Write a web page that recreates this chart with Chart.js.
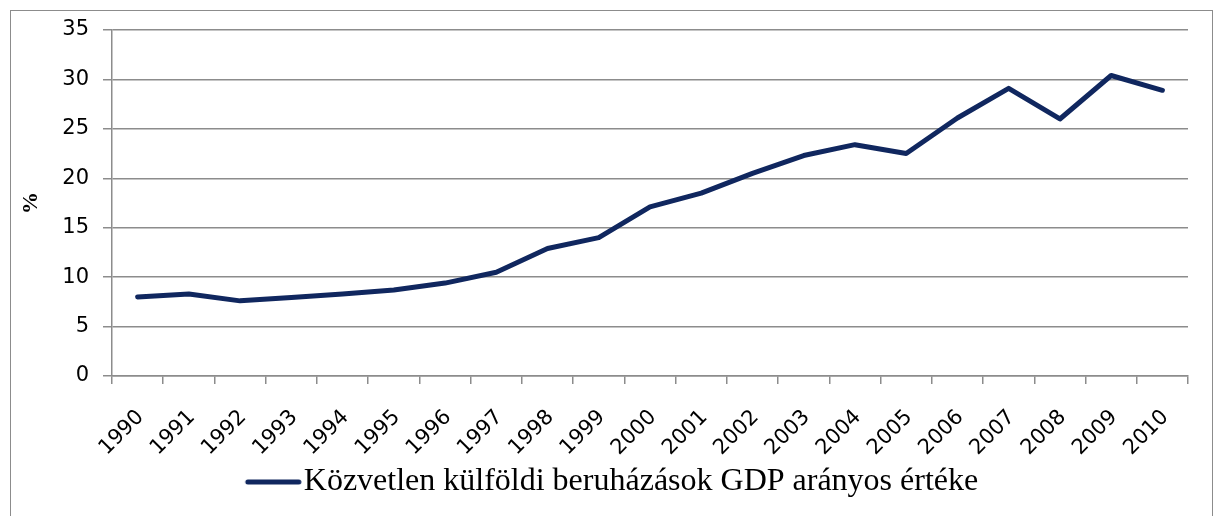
<!DOCTYPE html>
<html>
<head>
<meta charset="utf-8">
<script src="https://cdn.jsdelivr.net/npm/chart.js@4.4.0/dist/chart.umd.min.js"></script>
<style>
  html, body { margin: 0; padding: 0; background: #fff; }
  #wrap { position: relative; width: 1216px; height: 516px; }
  #frame { position: absolute; left: 10px; top: 10px; width: 1203px; height: 520px;
           border: 1px solid #8c8c8c; box-sizing: border-box; }
  canvas#chart { position: absolute; left: 0; top: 0; }
</style>
</head>
<body>
<div id="wrap">
  <div id="frame"></div>
  <canvas id="chart" width="1216" height="516"></canvas>
</div>
<script>
// years on the x axis
const years = ['1990', '1991', '1992', '1993', '1994', '1995', '1996', '1997', '1998', '1999',
  '2000', '2001', '2002', '2003', '2004', '2005', '2006', '2007', '2008', '2009', '2010'];

// FDI stock as % of GDP
const fdiShare = [8.0, 8.3, 7.6, 7.95, 8.3, 8.7, 9.4, 10.5, 12.9, 14.0,
  17.1, 18.5, 20.5, 22.3, 23.4, 22.5, 26.1, 29.1, 26.0, 30.4, 28.9];

const seriesLabel = 'Közvetlen külföldi beruházások GDP arányos értéke';
const yTitle = '%';
const yMax = 35;
const yStep = 5;

const gridColor = '#8c8c8c';
const lineColor = '#10275f';

// legend marker: a thick line drawn in the right half of a wide image, so the
// legend entry sits a bit right of centre and close to its text (like Excel)
function legendLine() {
  const c = document.createElement('canvas');
  c.width = 108;
  c.height = 8;
  const g = c.getContext('2d');
  g.strokeStyle = lineColor;
  g.lineWidth = 5;
  g.lineCap = 'round';
  g.beginPath();
  g.moveTo(53, 4);
  g.lineTo(104, 4);
  g.stroke();
  return c;
}

const ctx = document.getElementById('chart').getContext('2d');
const chart = new Chart(ctx, {
  type: 'line',
  data: {
    labels: years,
    datasets: [{
      label: seriesLabel,
      data: fdiShare,
      borderColor: lineColor,
      backgroundColor: lineColor,
      borderWidth: 5,
      borderCapStyle: 'round',
      borderJoinStyle: 'round',
      pointRadius: 0,
      pointStyle: legendLine(),
      tension: 0
    }]
  },
  options: {
    responsive: false,
    animation: false,
    layout: { padding: { top: 30, right: 28, bottom: 8, left: 0 } },
    plugins: {
      tooltip: { enabled: false },
      legend: {
        position: 'bottom',
        labels: {
          color: '#000',
          font: { family: '"Liberation Serif", "Times New Roman", serif', size: 32 },
          usePointStyle: true,
          pointStyleWidth: 78,
          padding: 8
        }
      }
    },
    scales: {
      x: {
        offset: true,
        grid: {
          offset: true,
          drawOnChartArea: false,
          drawTicks: true,
          tickLength: 8,
          color: gridColor,
          lineWidth: 1.5
        },
        border: { display: true, color: gridColor, width: 1.5 },
        ticks: {
          color: '#000',
          font: { family: '"DejaVu Sans", sans-serif', size: 21 },
          minRotation: 45,
          maxRotation: 45,
          padding: 21,
          labelOffset: 3,
          autoSkip: false
        },
        afterFit: (scale) => { scale.height = 82; }
      },
      y: {
        min: 0,
        max: yMax,
        grid: {
          color: gridColor,
          lineWidth: 1.5,
          tickLength: 9
        },
        border: { display: true, color: gridColor, width: 1.5 },
        ticks: {
          stepSize: yStep,
          color: '#000',
          font: { family: '"DejaVu Sans", sans-serif', size: 21 },
          padding: 14
        },
        title: {
          display: true,
          text: yTitle,
          color: '#000',
          font: { family: '"Liberation Serif", "Times New Roman", serif', size: 22, weight: 'bold' },
          padding: { top: 18, bottom: 0 }
        },
        afterFit: (scale) => { scale.width = 112; }
      }
    }
  }
});
</script>
</body>
</html>
